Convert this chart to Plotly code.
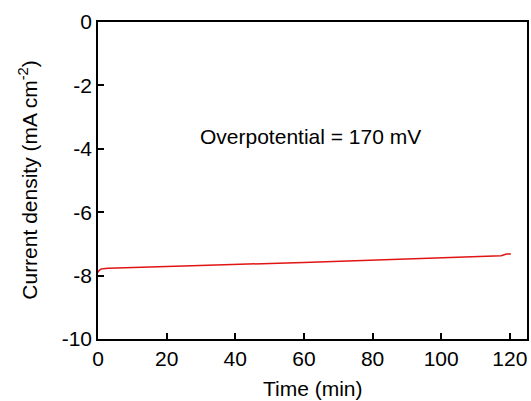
import plotly.graph_objects as go

time_min = [0, 0.3, 0.8, 1.5, 3, 6, 10, 12, 15, 20, 25, 30, 35, 40, 45, 50, 55, 60, 65, 70,
            75, 80, 85, 90, 95, 100, 105, 110, 115, 117.5, 119, 120.3]
current_density = [-7.90, -7.84, -7.80, -7.78, -7.77, -7.76, -7.75, -7.72, -7.72, -7.71,
                   -7.70, -7.68, -7.67, -7.65, -7.64, -7.62, -7.60, -7.59, -7.57, -7.56,
                   -7.54, -7.52, -7.50, -7.48, -7.46, -7.44, -7.42, -7.40, -7.38, -7.37,
                   -7.32, -7.32]

x_ticks = [0, 20, 40, 60, 80, 100, 120]
y_ticks = [0, -2, -4, -6, -8, -10]
annotation_text = "Overpotential = 170 mV"

FONT = "Liberation Sans, Arial, sans-serif"

fig = go.Figure()
fig.add_trace(go.Scatter(x=time_min, y=current_density, mode="lines",
                         line=dict(color="rgb(225,20,20)", width=1.5),
                         showlegend=False))

axis_common = dict(showline=True, linecolor="black", linewidth=1.5, mirror=True,
                   ticks="inside", ticklen=6, tickwidth=1.5, tickcolor="black",
                   showgrid=False, zeroline=False,
                   tickfont=dict(family=FONT, size=21, color="black"))

fig.update_xaxes(range=[0, 125], tickvals=x_ticks, ticktext=[str(v) for v in x_ticks],
                 **axis_common)
fig.update_yaxes(range=[-10, 0], tickvals=y_ticks, ticktext=[str(v) for v in y_ticks],
                 **axis_common)

fig.add_annotation(x=61.8, y=-3.62, xref="x", yref="y", text=annotation_text,
                   showarrow=False, font=dict(family=FONT, size=21, color="black"))
fig.add_annotation(x=0.502, y=-0.155, xref="paper", yref="paper", text="Time (min)",
                   showarrow=False, yanchor="middle",
                   font=dict(family=FONT, size=21, color="black"))
fig.add_annotation(x=-0.165, y=0.5, xref="paper", yref="paper",
                   text="Current density (mA cm<sup>-2</sup>)", textangle=-90,
                   showarrow=False, xanchor="center",
                   font=dict(family=FONT, size=21, color="black"))

fig.update_layout(width=531, height=401,
                  margin=dict(l=98, r=2, t=22, b=62),
                  paper_bgcolor="white", plot_bgcolor="white")

fig.write_html("out.html")
